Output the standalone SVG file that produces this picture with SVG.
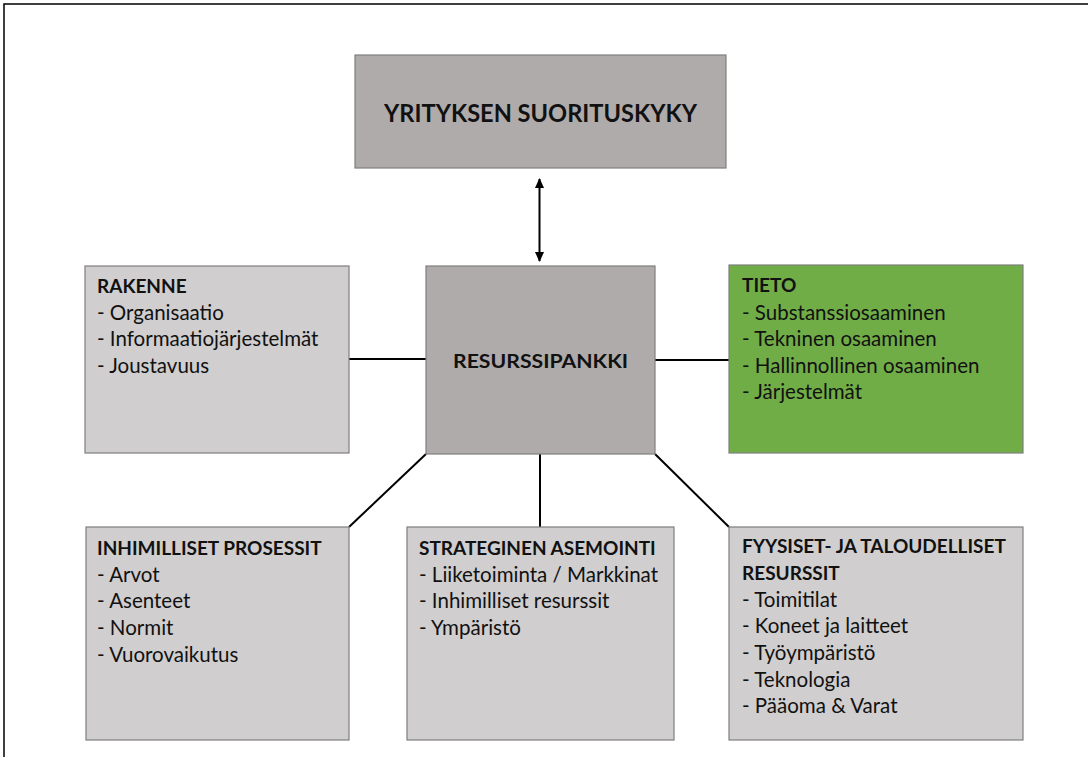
<svg xmlns="http://www.w3.org/2000/svg" width="1088" height="757" viewBox="0 0 1088 757">
<defs>
<marker id="ah" viewBox="0 0 10 10" refX="9" refY="5" markerWidth="10" markerHeight="10" orient="auto-start-reverse" markerUnits="userSpaceOnUse"><path d="M0,0.5 L10,5 L0,9.5 z" fill="#000"/></marker>
</defs>
<style>
.dark{fill:#afabab;stroke:#7f7f7f;stroke-width:1.2}
.light{fill:#d0cece;stroke:#7f7f7f;stroke-width:1.2}
.green{fill:#70ad47;stroke:#7f7f7f;stroke-width:1.2}
text{font-family:Lato,"Liberation Sans",sans-serif;fill:#111}
.h{font-weight:bold;font-size:19px}
.t{font-size:20.5px}
.big{font-weight:bold;font-size:25px}
.conn{stroke:#000;stroke-width:2;fill:none}
</style>
<rect x="4" y="4" width="1100" height="800" fill="#fff" stroke="#000" stroke-width="1.5"/>
<g id="connectors">
<line class="conn" x1="539.5" y1="179" x2="539.5" y2="261" marker-start="url(#ah)" marker-end="url(#ah)"/>
<line class="conn" x1="349" y1="359" x2="426" y2="359"/>
<line class="conn" x1="655" y1="360" x2="729" y2="360"/>
<line class="conn" x1="349" y1="527" x2="426" y2="454"/>
<line class="conn" x1="540" y1="454" x2="540" y2="527"/>
<line class="conn" x1="655" y1="454" x2="729" y2="527"/>
</g>
<g id="suorituskyky">
<rect class="dark" x="355" y="55" width="371" height="113"/>
<text class="big" x="540.5" y="122" text-anchor="middle" textLength="313" lengthAdjust="spacingAndGlyphs">YRITYKSEN SUORITUSKYKY</text>
</g>
<g id="resurssipankki">
<rect class="dark" x="426" y="266" width="229" height="188"/>
<text class="h" x="540.5" y="368" text-anchor="middle" textLength="175" lengthAdjust="spacingAndGlyphs">RESURSSIPANKKI</text>
</g>
<g id="rakenne">
<rect class="light" x="85" y="266" width="264" height="187"/>
<text class="h" x="97" y="293">RAKENNE</text>
<text class="t" x="97" y="320">- Organisaatio</text>
<text class="t" x="97" y="346">- Informaatiojärjestelmät</text>
<text class="t" x="97" y="373">- Joustavuus</text>
</g>
<g id="tieto">
<rect class="green" x="729" y="265" width="294" height="188"/>
<text class="h" x="742" y="292">TIETO</text>
<text class="t" x="742" y="320">- Substanssiosaaminen</text>
<text class="t" x="742" y="346">- Tekninen osaaminen</text>
<text class="t" x="742" y="373">- Hallinnollinen osaaminen</text>
<text class="t" x="742" y="399">- Järjestelmät</text>
</g>
<g id="inhimilliset">
<rect class="light" x="86" y="527" width="263" height="213"/>
<text class="h" x="97" y="555">INHIMILLISET PROSESSIT</text>
<text class="t" x="97" y="582">- Arvot</text>
<text class="t" x="97" y="608">- Asenteet</text>
<text class="t" x="97" y="635">- Normit</text>
<text class="t" x="97" y="662">- Vuorovaikutus</text>
</g>
<g id="strateginen">
<rect class="light" x="407" y="527" width="267" height="213"/>
<text class="h" x="419" y="555">STRATEGINEN ASEMOINTI</text>
<text class="t" x="419" y="582">- Liiketoiminta / Markkinat</text>
<text class="t" x="419" y="608">- Inhimilliset resurssit</text>
<text class="t" x="419" y="635">- Ympäristö</text>
</g>
<g id="fyysiset">
<rect class="light" x="729" y="527" width="294" height="213"/>
<text class="h" x="742" y="553">FYYSISET- JA TALOUDELLISET</text>
<text class="h" x="742" y="580">RESURSSIT</text>
<text class="t" x="742" y="607">- Toimitilat</text>
<text class="t" x="742" y="633">- Koneet ja laitteet</text>
<text class="t" x="742" y="660">- Työympäristö</text>
<text class="t" x="742" y="687">- Teknologia</text>
<text class="t" x="742" y="713">- Pääoma &amp; Varat</text>
</g>
</svg>
